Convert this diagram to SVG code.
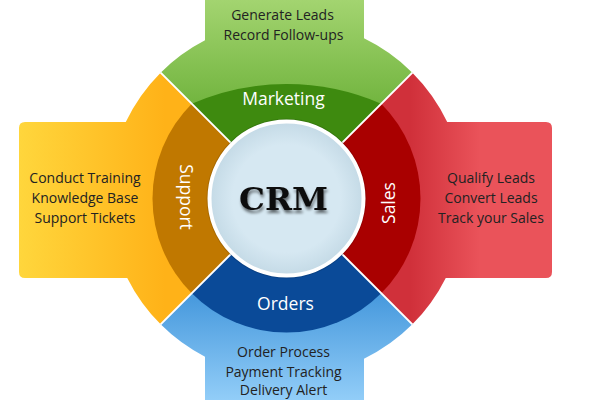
<svg xmlns="http://www.w3.org/2000/svg" width="600" height="400" viewBox="0 0 600 400">
<defs>
<linearGradient id="gSup" gradientUnits="userSpaceOnUse" x1="20" y1="0" x2="165" y2="0"><stop offset="0" stop-color="#FFD63C"/><stop offset="1" stop-color="#FFB218"/></linearGradient>
<linearGradient id="gMkt" gradientUnits="userSpaceOnUse" x1="0" y1="0" x2="0" y2="100"><stop offset="0" stop-color="#A3D470"/><stop offset="1" stop-color="#74B641"/></linearGradient>
<linearGradient id="gSal" gradientUnits="userSpaceOnUse" x1="410" y1="0" x2="480" y2="0"><stop offset="0" stop-color="#D0303A"/><stop offset="1" stop-color="#EA535A"/></linearGradient>
<linearGradient id="gOrd" gradientUnits="userSpaceOnUse" x1="0" y1="300" x2="0" y2="400"><stop offset="0" stop-color="#4A9BDE"/><stop offset="1" stop-color="#92CDF8"/></linearGradient>
<radialGradient id="gCen" cx="0.5" cy="0.5" r="0.5"><stop offset="0.7" stop-color="#D6E8F2"/><stop offset="1" stop-color="#C4DAE6"/></radialGradient>
<filter id="shadow" x="-20%" y="-20%" width="140%" height="160%"><feGaussianBlur in="SourceAlpha" stdDeviation="1.6"/><feOffset dx="1" dy="2.5" result="b"/><feComponentTransfer><feFuncA type="linear" slope="0.55"/></feComponentTransfer><feMerge><feMergeNode/><feMergeNode in="SourceGraphic"/></feMerge></filter>
</defs>
<style>
.lbl{font-family:"Open Sans","Noto Sans",sans-serif;font-size:17.5px;fill:#ffffff;text-anchor:middle}
.txt{font-family:"Open Sans","Noto Sans",sans-serif;font-size:14px;fill:#222222;text-anchor:middle}
.sep{stroke:#ffffff;stroke-width:2;fill:none}
</style>
<rect width="600" height="400" fill="#ffffff"/>
<g id="node-support">
<path d="M286.5,198.5 L160.63,72.63 A178,178 0 0 0 125.78,122 L25,122 Q19,122 19,128 L19,272 Q19,278 25,278 L127.24,278 A178,178 0 0 0 160.63,324.37 Z" fill="url(#gSup)"/>
<path d="M286.5,198.5 L191.75,103.75 A134,134 0 0 0 191.75,293.25 Z" fill="#C07800"/>
<text class="lbl" transform="translate(180,197) rotate(90)">Support</text>
<text class="txt" x="85" y="183">Conduct Training</text>
<text class="txt" x="85" y="203">Knowledge Base</text>
<text class="txt" x="85" y="223">Support Tickets</text>
</g>
<g id="node-marketing">
<path d="M286.5,198.5 L160.63,72.63 A178,178 0 0 1 205,40.25 L205,-10 L364,-10 L364,38.26 A178,178 0 0 1 412.37,72.63 Z" fill="url(#gMkt)"/>
<path d="M286.5,198.5 L191.75,103.75 A237,237 0 0 1 381.25,103.75 Z" fill="#3E8A0F"/>
<text class="lbl" x="283.5" y="105">Marketing</text>
<text class="txt" x="282.5" y="20">Generate Leads</text>
<text class="txt" x="283.5" y="40">Record Follow-ups</text>
</g>
<g id="node-sales">
<path d="M286.5,198.5 L412.37,72.63 A178,178 0 0 1 447.22,122 L546,122 Q552,122 552,128 L552,272 Q552,278 546,278 L445.76,278 A178,178 0 0 1 412.37,324.37 Z" fill="url(#gSal)"/>
<path d="M286.5,198.5 L381.25,103.75 A134,134 0 0 1 381.25,293.25 Z" fill="#A90000"/>
<text class="lbl" transform="translate(395,203) rotate(-90)">Sales</text>
<text class="txt" x="491" y="183">Qualify Leads</text>
<text class="txt" x="491" y="203">Convert Leads</text>
<text class="txt" x="491" y="223">Track your Sales</text>
</g>
<g id="node-orders">
<path d="M286.5,198.5 L412.37,324.37 A178,178 0 0 1 364,358.74 L364,410 L205,410 L205,356.75 A178,178 0 0 1 160.63,324.37 Z" fill="url(#gOrd)"/>
<path d="M286.5,198.5 L381.25,293.25 A134,134 0 0 1 191.75,293.25 Z" fill="#0A4A98"/>
<text class="lbl" x="285.5" y="310">Orders</text>
<text class="txt" x="283.5" y="357">Order Process</text>
<text class="txt" x="283.5" y="377">Payment Tracking</text>
<text class="txt" x="283.5" y="395">Delivery Alert</text>
</g>
<g id="connectors">
<line class="sep" x1="230.64" y1="142.64" x2="160.63" y2="72.63"/>
<line class="sep" x1="342.36" y1="142.64" x2="412.37" y2="72.63"/>
<line class="sep" x1="342.36" y1="254.36" x2="412.37" y2="324.37"/>
<line class="sep" x1="230.64" y1="254.36" x2="160.63" y2="324.37"/>
</g>
<g id="node-crm">
<circle cx="286.5" cy="198.5" r="80" fill="#000000" opacity="0.12"/>
<circle cx="286.5" cy="198.5" r="77" fill="url(#gCen)" stroke="#ffffff" stroke-width="4"/>
<text x="283.5" y="210" text-anchor="middle" font-family="'DejaVu Serif','Liberation Serif',serif" font-weight="bold" font-size="32" textLength="89" lengthAdjust="spacingAndGlyphs" fill="#111111" filter="url(#shadow)">CRM</text>
</g>
</svg>
